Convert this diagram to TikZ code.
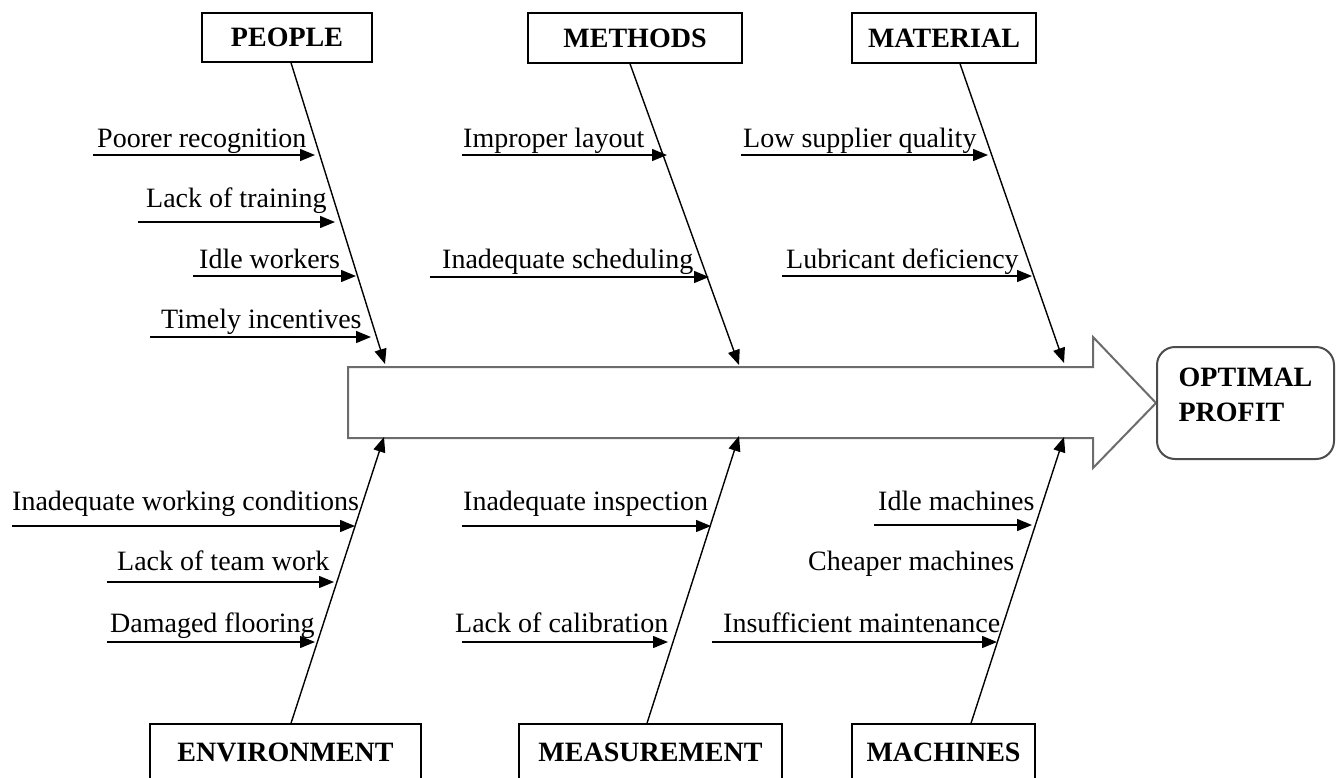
\documentclass[tikz,border=0pt]{standalone}
\usepackage{fontspec}
\setmainfont{Liberation Serif}
\usetikzlibrary{arrows.meta}
\tikzset{
  catbox/.style={draw, line width=1.5pt, inner sep=0pt, font=\fontsize{28}{34}\selectfont\bfseries},
  lbl/.style={inner sep=0pt, anchor=base west, font=\fontsize{28}{34}\selectfont},
  bone/.style={line width=1.4pt, -{Triangle[length=15pt,width=12pt]}},
  subarrow/.style={line width=1.4pt, -{Triangle[length=15pt,width=12pt]}},
}
\begin{document}
\begin{tikzpicture}[x=1pt,y=-1pt]
\useasboundingbox (0,0) rectangle (1336,777);

% spine and effect
\draw[color=gray!85!black, line width=2pt, fill=white] (348,367) coordinate (spine) -- (1093,367) -- (1093,337) -- (1156,403) coordinate (head) -- (1093,468) -- (1093,438) -- (348,438) -- cycle;
\node[draw=black!70, line width=2pt, rounded corners=18pt, minimum width=177pt, minimum height=112pt, align=left, text depth=16pt, font=\fontsize{28}{35}\selectfont\bfseries] (profit) at (1245.5,403) {OPTIMAL\\PROFIT};

% categories
\node[catbox, minimum width=170pt, minimum height=49pt] (people) at (287,37.5) {PEOPLE};
\node[catbox, minimum width=214pt, minimum height=50pt] (methods) at (635,38) {METHODS};
\node[catbox, minimum width=184pt, minimum height=50pt] (material) at (944,38) {MATERIAL};
\node[catbox, minimum width=271pt, minimum height=56pt] (environment) at (285.5,752) {ENVIRONMENT};
\node[catbox, minimum width=263pt, minimum height=56pt] (measurement) at (650.5,752) {MEASUREMENT};
\node[catbox, minimum width=183pt, minimum height=56pt] (machines) at (943.5,752) {MACHINES};

% bones
\coordinate (peopleTip) at (385,364);
\coordinate (methodsTip) at (739,365);
\coordinate (materialTip) at (1064,363);
\coordinate (environmentTip) at (384,437);
\coordinate (measurementTip) at (739,436);
\coordinate (machinesTip) at (1064,437);
\draw[bone] ([xshift=4pt]people.south) -- (peopleTip);
\draw[bone] ([xshift=-5pt]methods.south) -- (methodsTip);
\draw[bone] ([xshift=16pt]material.south) -- (materialTip);
\draw[bone] ([xshift=5.5pt]environment.north) -- (environmentTip);
\draw[bone] ([xshift=-3.5pt]measurement.north) -- (measurementTip);
\draw[bone] ([xshift=27.5pt]machines.north) -- (machinesTip);

% people causes
\node[lbl] (poorer) at (97,147) {Poorer recognition};
\coordinate (poorer-s) at (93,155); \coordinate (poorer-e) at (315,155);
\draw[subarrow] (poorer-s) -- (poorer-e);
\node[lbl] (training) at (146,207) {Lack of training};
\coordinate (training-s) at (138,222); \coordinate (training-e) at (335,222);
\draw[subarrow] (training-s) -- (training-e);
\node[lbl] (idlew) at (199,268) {Idle workers};
\coordinate (idlew-s) at (193,276); \coordinate (idlew-e) at (356,276);
\draw[subarrow] (idlew-s) -- (idlew-e);
\node[lbl] (incent) at (161,328) {Timely incentives};
\coordinate (incent-s) at (150,337); \coordinate (incent-e) at (371,337);
\draw[subarrow] (incent-s) -- (incent-e);

% methods causes
\node[lbl] (layout) at (463,147) {Improper layout};
\coordinate (layout-s) at (462,155); \coordinate (layout-e) at (667,155);
\draw[subarrow] (layout-s) -- (layout-e);
\node[lbl] (sched) at (442,268) {Inadequate scheduling};
\coordinate (sched-s) at (430,277); \coordinate (sched-e) at (709,277);
\draw[subarrow] (sched-s) -- (sched-e);

% material causes
\node[lbl] (supplier) at (743,147) {Low supplier quality};
\coordinate (supplier-s) at (741,155); \coordinate (supplier-e) at (988,155);
\draw[subarrow] (supplier-s) -- (supplier-e);
\node[lbl] (lubric) at (786,268) {Lubricant deficiency};
\coordinate (lubric-s) at (782,276); \coordinate (lubric-e) at (1032,276);
\draw[subarrow] (lubric-s) -- (lubric-e);

% environment causes
\node[lbl] (working) at (12,510) {Inadequate working conditions};
\coordinate (working-s) at (12,526); \coordinate (working-e) at (355,526);
\draw[subarrow] (working-s) -- (working-e);
\node[lbl] (team) at (117,570) {Lack of team work};
\coordinate (team-s) at (107,582); \coordinate (team-e) at (334,582);
\draw[subarrow] (team-s) -- (team-e);
\node[lbl] (floor) at (110,632) {Damaged flooring};
\coordinate (floor-s) at (107,642); \coordinate (floor-e) at (315,642);
\draw[subarrow] (floor-s) -- (floor-e);

% measurement causes
\node[lbl] (inspect) at (463,510) {Inadequate inspection};
\coordinate (inspect-s) at (462,526); \coordinate (inspect-e) at (711,526);
\draw[subarrow] (inspect-s) -- (inspect-e);
\node[lbl] (calib) at (455,632) {Lack of calibration};
\coordinate (calib-s) at (462,642); \coordinate (calib-e) at (668,642);
\draw[subarrow] (calib-s) -- (calib-e);

% machines causes
\node[lbl] (idlem) at (878,510) {Idle machines};
\coordinate (idlem-s) at (874,525); \coordinate (idlem-e) at (1032,525);
\draw[subarrow] (idlem-s) -- (idlem-e);
\node[lbl] (cheap) at (808,570) {Cheaper machines};
\node[lbl] (maint) at (723,632) {Insufficient maintenance};
\coordinate (maint-s) at (712,642); \coordinate (maint-e) at (997,642);
\draw[subarrow] (maint-s) -- (maint-e);
\end{tikzpicture}
\end{document}
